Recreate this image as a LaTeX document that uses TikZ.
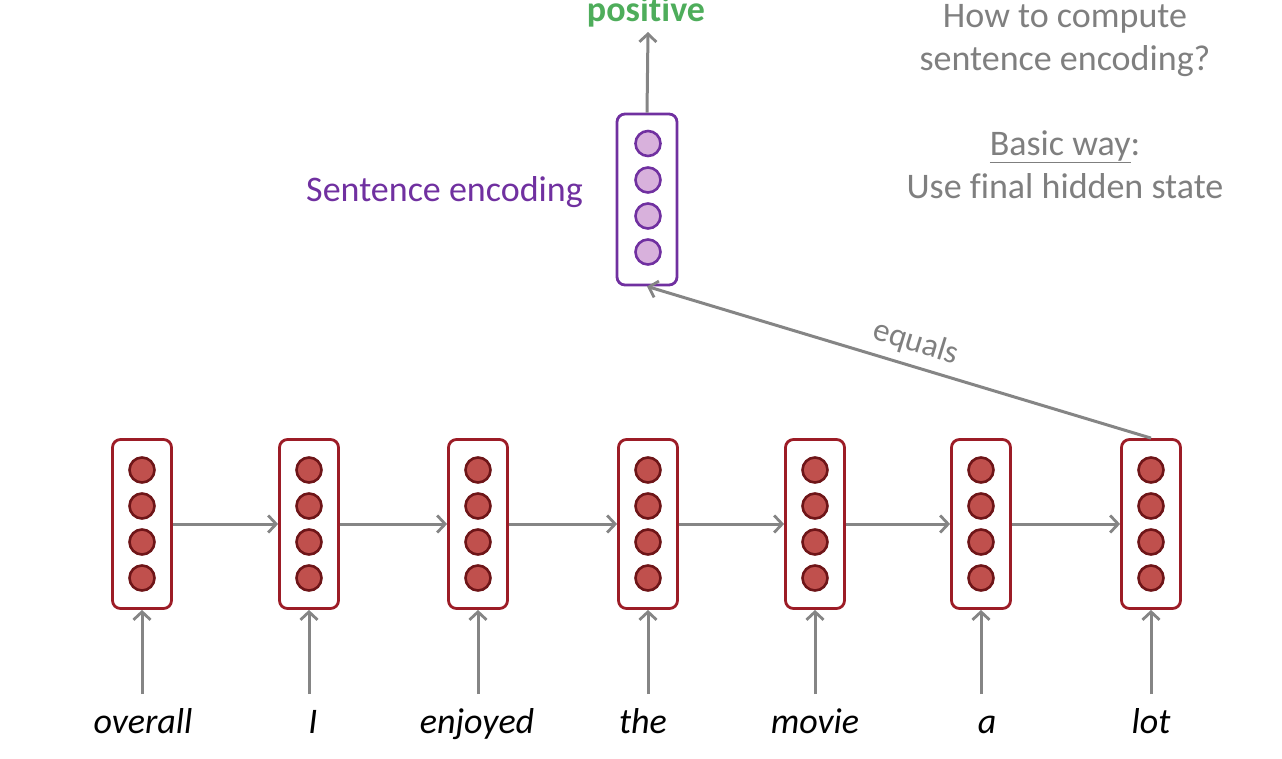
\documentclass[tikz,border=0pt]{standalone}
\usepackage{fontspec}
\setmainfont{Carlito}[Ligatures=NoCommon]
\usetikzlibrary{arrows.meta}
\definecolor{boxred}{HTML}{9C1C26}
\definecolor{cellfill}{HTML}{C0504D}
\definecolor{celledge}{HTML}{6E1518}
\definecolor{encpurple}{HTML}{7030A0}
\definecolor{encfill}{HTML}{D8B1DC}
\definecolor{posgreen}{HTML}{4EAD5B}
\definecolor{arrowgray}{HTML}{858585}
\definecolor{notegray}{HTML}{7F7F7F}
\newcommand\slidefont{\fontsize{36}{43}\selectfont}
\begin{document}
\begin{tikzpicture}[x=1pt,y=-1pt,
  rnnbox/.style={draw=boxred, line width=2.8pt, rounded corners=8pt,
    minimum width=59pt, minimum height=169pt, inner sep=0pt},
  cell/.style={circle, draw=celledge, fill=cellfill, line width=2.6pt,
    minimum size=25pt, inner sep=0pt},
  encbox/.style={draw=encpurple, line width=2.8pt, rounded corners=8pt,
    minimum width=60pt, minimum height=171pt, inner sep=0pt},
  enccell/.style={circle, draw=encpurple, fill=encfill, line width=2.6pt,
    minimum size=25pt, inner sep=0pt},
  flow/.style={draw=arrowgray, line width=3pt,
    -{Straight Barb[length=8pt, width=17pt, line width=2.8pt]}},
  word/.style={font=\slidefont\itshape, anchor=base, inner sep=0pt},
  note/.style={font=\slidefont, text=notegray, anchor=base, inner sep=0pt}
]
\useasboundingbox (0,0) rectangle (1282,758);

% recurrent hidden states
\foreach \x [count=\i] in {142,309,478,648,815,981,1151} {
  \node[rnnbox] (h\i) at (\x,524) {};
  \foreach \dy [count=\j] in {-54,-18,18,54}
    \node[cell] (h\i-c\j) at (\x,524+\dy) {};
  \coordinate (in\i) at (\x,694);
  \draw[flow] (in\i) -- (h\i.south);
}

% left-to-right recurrence
\foreach \i [evaluate=\i as \j using int(\i+1)] in {1,...,6}
  \draw[flow] (h\i.east) -- (h\j.west);

% input words
\foreach \w/\x [count=\i] in {overall/143, I/313, enjoyed/477, the/643, movie/815, a/987, lot/1151}
  \node[word] (w\i) at (\x,733) {\w};

% sentence encoding
\node[encbox] (enc) at (647,199.5) {};
\foreach \dy [count=\j] in {-56,-19.5,16.5,52.5}
  \node[enccell] (enc-c\j) at (648,199.5+\dy) {};
\node[font=\slidefont, text=encpurple, anchor=base east, inner sep=0pt]
  (enclabel) at (583,201) {Sentence encoding};

% output
\coordinate (out) at (648,32);
\draw[flow] (enc.north) -- (out);
\node[font=\slidefont\bfseries, text=posgreen, anchor=base, inner sep=0pt]
  (pos) at (646,21) {positive};

% final hidden state feeds the encoding
\draw[flow] (h7.north) -- (enc.south);
\path (h7.north) -- node[pos=0.48, rotate=-17.1, anchor=south, inner sep=9pt,
  font=\fontsize{33}{40}\selectfont, text=notegray] (eqlabel) {equals} (enc.south);

% side notes
\node[note] (q1) at (1065,27) {How to compute};
\node[note] (q2) at (1065,70) {sentence encoding?};
\node[note] (q3) at (1065,155) {\underline{Basic way}:};
\node[note] (q4) at (1065,198) {Use final hidden state};
\end{tikzpicture}
\end{document}
